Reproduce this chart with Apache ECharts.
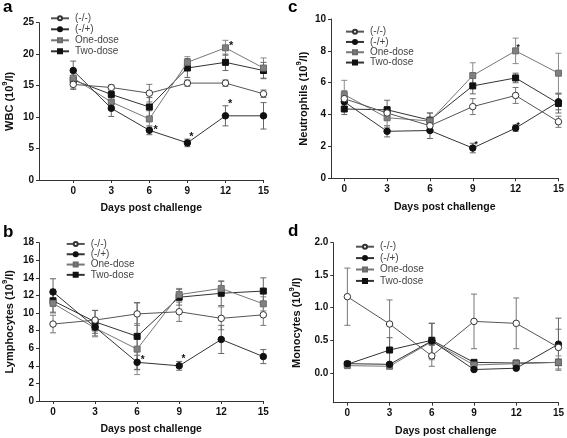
<!DOCTYPE html>
<html>
<head>
<meta charset="utf-8">
<script src="https://cdn.jsdelivr.net/npm/echarts@6/dist/echarts.min.js"></script>
<style>
html,body{margin:0;padding:0;background:#fff;}
#chart{width:567px;height:438px;}
</style>
</head>
<body>
<div id="chart"></div>
<script>
// ---------- data ----------
var days = [0, 3, 6, 9, 12, 15];
var groupNames = ['(-/-)', '(-/+)', 'One-dose', 'Two-dose'];

// Panel a: WBC (10^9/l)
var wbcNeg = [15.2, 14.7, 13.8, 15.4, 15.4, 13.7];
var wbcNegErr = [0.6, 0.4, 1.4, 0.5, 0.5, 0.6];
var wbcPos = [17.4, 11.4, 7.9, 5.9, 10.2, 10.2];
var wbcPosErr = [1.5, 1.3, 0.7, 0.6, 1.6, 2.1];
var wbcOne = [16.2, 12.4, 9.7, 18.7, 21.0, 17.8];
var wbcOneErr = [1.0, 1.0, 1.3, 0.9, 1.2, 1.6];
var wbcTwo = [15.9, 13.6, 11.6, 17.8, 18.7, 17.4];
var wbcTwoErr = [1.5, 1.4, 1.5, 1.5, 1.3, 1.3];

// Panel b: Lymphocytes (10^9/l)
var lymNeg = [8.75, 9.2, 9.9, 10.15, 9.4, 9.8];
var lymNegErr = [1.0, 1.1, 1.3, 1.1, 1.3, 1.2];
var lymPos = [12.4, 8.4, 4.4, 4.0, 7.0, 5.05];
var lymPosErr = [1.5, 1.0, 0.8, 0.5, 1.6, 0.8];
var lymOne = [11.1, 8.3, 5.9, 12.1, 12.8, 11.05];
var lymOneErr = [1.1, 1.0, 2.9, 0.7, 0.8, 0.8];
var lymTwo = [11.4, 9.0, 7.35, 11.8, 12.25, 12.5];
var lymTwoErr = [1.3, 1.3, 3.8, 0.9, 1.4, 1.5];

// Panel c: Neutrophils (10^9/l)
var neuNeg = [5.0, 4.1, 3.3, 4.5, 5.2, 3.55];
var neuNegErr = [0.5, 0.4, 0.3, 0.5, 0.5, 0.35];
var neuPos = [4.8, 2.95, 3.0, 1.9, 3.15, 4.8];
var neuPosErr = [0.4, 0.35, 0.5, 0.3, 0.2, 0.5];
var neuOne = [5.25, 3.8, 3.6, 6.45, 8.0, 6.6];
var neuOneErr = [0.9, 0.6, 0.5, 0.8, 0.8, 1.25];
var neuTwo = [4.35, 4.3, 3.65, 5.8, 6.3, 4.7];
var neuTwoErr = [0.35, 0.6, 0.45, 0.5, 0.3, 0.6];

// Panel d: Monocytes (10^9/l)
var monoNeg = [1.17, 0.75, 0.26, 0.79, 0.76, 0.39];
var monoNegErr = [0.44, 0.37, 0.16, 0.42, 0.39, 0.28];
var monoPos = [0.14, 0.13, 0.49, 0.05, 0.07, 0.44];
var monoPosErr = [0.02, 0.02, 0.27, 0.02, 0.02, 0.4];
var monoOne = [0.11, 0.10, 0.48, 0.12, 0.14, 0.16];
var monoOneErr = [0.02, 0.02, 0.28, 0.02, 0.02, 0.1];
var monoTwo = [0.13, 0.35, 0.50, 0.16, 0.15, 0.16];
var monoTwoErr = [0.02, 0.19, 0.26, 0.03, 0.02, 0.05];

// significance asterisks [x, y] (centre of the asterisk glyph)
var starsA = [[6.5, 8.4], [9.32, 7.15], [12.45, 21.7], [12.37, 12.45]];
var starsB = [[6.39, 4.86], [9.3, 5.04]];
var starsC = [[9.23, 2.26], [12.18, 3.45], [12.18, 8.32]];

var xTicks = [0, 3, 6, 9, 12, 15];
var yTicksD = [0, 0.5, 1.0, 1.5, 2.0];

// ---------- panels ----------
var FONT = '"Liberation Sans", Arial, sans-serif';
var panels = [
  {label: 'a', vals: [wbcNeg, wbcPos, wbcOne, wbcTwo], errs: [wbcNegErr, wbcPosErr, wbcOneErr, wbcTwoErr],
   title: 'WBC', grid: {left: 37.5, top: 22.7, width: 226, height: 157.3},
   xMin: -2.7, yMin: 0, yMax: 25, yInt: 5, nameGap: 24, stars: starsA, starSize: 11,
   legend: {left: 50, top: 12.8, gap: 11}, lab: [3, -1]},
  {label: 'b', vals: [lymNeg, lymPos, lymOne, lymTwo], errs: [lymNegErr, lymPosErr, lymOneErr, lymTwoErr],
   title: 'Lymphocytes', grid: {left: 37.3, top: 242.7, width: 226, height: 158.3},
   xMin: -1, yMin: 0, yMax: 18, yInt: 2, nameGap: 24, stars: starsB, starSize: 10,
   legend: {left: 65.7, top: 238.8, gap: 10.3}, lab: [3, 224]},
  {label: 'c', vals: [neuNeg, neuPos, neuOne, neuTwo], errs: [neuNegErr, neuPosErr, neuOneErr, neuTwoErr],
   title: 'Neutrophils', grid: {left: 331, top: 19, width: 227.5, height: 159.3},
   xMin: -0.93, yMin: 0, yMax: 10, yInt: 2, nameGap: 22, stars: starsC, starSize: 8.5,
   legend: {left: 345, top: 26.5, gap: 10.3}, lab: [288, -1]},
  {label: 'd', vals: [monoNeg, monoPos, monoOne, monoTwo], errs: [monoNegErr, monoPosErr, monoOneErr, monoTwoErr],
   title: 'Monocytes', grid: {left: 333.3, top: 242.7, width: 227.5, height: 160},
   xMin: -1, yMin: -0.46, yMax: 2, yInt: null, nameGap: 31, stars: [], starSize: 10,
   legend: {left: 355, top: 241, gap: 11.4}, lab: [288, 223]}
];

var styles = [
  {symbol: 'circle', fill: '#ffffff', border: '#333333', line: '#555555', err: '#777777'},
  {symbol: 'circle', fill: '#111111', border: '#111111', line: '#333333', err: '#666666'},
  {symbol: 'rect', fill: '#808080', border: '#6a6a6a', line: '#777777', err: '#8a8a8a'},
  {symbol: 'rect', fill: '#111111', border: '#111111', line: '#333333', err: '#666666'}
];

var grids = [], xAxes = [], yAxes = [], series = [], legends = [], graphics = [];

panels.forEach(function (p, pi) {
  grids.push(p.grid);
  xAxes.push({
    type: 'value', gridIndex: pi, min: p.xMin, max: 15,
    name: 'Days post challenge', nameLocation: 'middle', nameGap: 23,
    nameTextStyle: {fontFamily: FONT, fontWeight: 'bold', fontSize: 10.5, color: '#111'},
    axisLine: {show: true, onZero: false, lineStyle: {color: '#333', width: 1}},
    axisTick: {show: true, length: 3, customValues: xTicks, lineStyle: {color: '#333'}},
    axisLabel: {customValues: xTicks, fontFamily: FONT, fontWeight: 'bold', fontSize: 10, color: '#111', margin: 6},
    splitLine: {show: false}
  });
  var ya = {
    type: 'value', gridIndex: pi, min: p.yMin, max: p.yMax,
    name: '{t|' + p.title + ' (10}{s|9}{t|/l)}', nameLocation: 'middle', nameGap: p.nameGap, nameRotate: 90,
    nameTextStyle: {fontFamily: FONT, fontWeight: 'bold', color: '#111',
      rich: {t: {fontFamily: FONT, fontWeight: 'bold', fontSize: 11, color: '#111', lineHeight: 14, verticalAlign: 'bottom'},
             s: {fontFamily: FONT, fontWeight: 'bold', fontSize: 7.5, color: '#111', lineHeight: 14, verticalAlign: 'top', padding: [0, 0, 4, 0]}}},
    axisLine: {show: true, onZero: false, lineStyle: {color: '#333', width: 1}},
    axisTick: {show: true, length: 3, lineStyle: {color: '#333'}},
    axisLabel: {fontFamily: FONT, fontWeight: 'bold', fontSize: 10, color: '#111', margin: 5},
    splitLine: {show: false}
  };
  if (p.yInt) {
    ya.interval = p.yInt;
  } else {
    ya.axisTick.customValues = yTicksD;
    ya.axisLabel.customValues = yTicksD;
    ya.axisLabel.formatter = function (v) { return v.toFixed(1); };
  }
  yAxes.push(ya);

  // error bars first (drawn beneath)
  p.vals.forEach(function (vals, gi) {
    var st = styles[gi];
    var errData = days.map(function (d, i) { return [d, vals[i] - p.errs[gi][i], vals[i] + p.errs[gi][i]]; });
    series.push({
      type: 'custom', name: 'err' + pi + gi, xAxisIndex: pi, yAxisIndex: pi, silent: true, z: 1,
      data: errData,
      renderItem: function (params, api) {
        var x = api.value(0);
        var lo = api.coord([x, api.value(1)]);
        var hi = api.coord([x, api.value(2)]);
        var hw = 3;
        var s = {stroke: st.err, lineWidth: 1};
        return {type: 'group', children: [
          {type: 'line', shape: {x1: lo[0], y1: lo[1], x2: hi[0], y2: hi[1]}, style: s},
          {type: 'line', shape: {x1: lo[0] - hw, y1: lo[1], x2: lo[0] + hw, y2: lo[1]}, style: s},
          {type: 'line', shape: {x1: hi[0] - hw, y1: hi[1], x2: hi[0] + hw, y2: hi[1]}, style: s}
        ]};
      }
    });
  });

  p.vals.forEach(function (vals, gi) {
    var st = styles[gi];
    series.push({
      type: 'line', name: groupNames[gi], xAxisIndex: pi, yAxisIndex: pi, z: 3 + (3 - gi),
      data: days.map(function (d, i) { return [d, vals[i]]; }),
      symbol: st.symbol, symbolSize: st.symbol === 'rect' ? 6 : 6.5,
      showAllSymbol: true,
      lineStyle: {color: st.line, width: 1},
      itemStyle: {color: st.fill, borderColor: st.border, borderWidth: 1},
      emphasis: {disabled: true},
      animation: false
    });
  });

  if (p.stars.length) {
    var fs = p.starSize;
    series.push({
      type: 'custom', name: 'stars' + pi, xAxisIndex: pi, yAxisIndex: pi, silent: true, z: 20, zlevel: 1,
      data: p.stars,
      renderItem: function (params, api) {
        var c = api.coord([api.value(0), api.value(1)]);
        return {type: 'text', x: c[0], y: c[1] + fs * 0.22,
          style: {text: '*', fontFamily: FONT, fontWeight: 'bold', fontSize: fs, fill: '#111', align: 'center', verticalAlign: 'middle'}};
      }
    });
  }

  legends.push({
    orient: 'vertical', left: p.legend.left, top: p.legend.top, itemGap: 0,
    itemWidth: 18, itemHeight: 5, padding: 0, selectedMode: false,
    data: groupNames,
    textStyle: {fontFamily: FONT, fontSize: 10, color: '#444', lineHeight: p.legend.gap, padding: [0, 0, 0, 1]}
  });

  graphics.push({
    type: 'text', left: p.lab[0], top: p.lab[1],
    style: {text: p.label, fontFamily: FONT, fontWeight: 'bold', fontSize: 17, fill: '#000'}
  });
});

var chart = echarts.init(document.getElementById('chart'), null, {renderer: 'canvas'});
chart.setOption({
  animation: false,
  backgroundColor: '#ffffff',
  grid: grids,
  xAxis: xAxes,
  yAxis: yAxes,
  legend: legends,
  series: series,
  graphic: graphics
});
</script>
</body>
</html>
